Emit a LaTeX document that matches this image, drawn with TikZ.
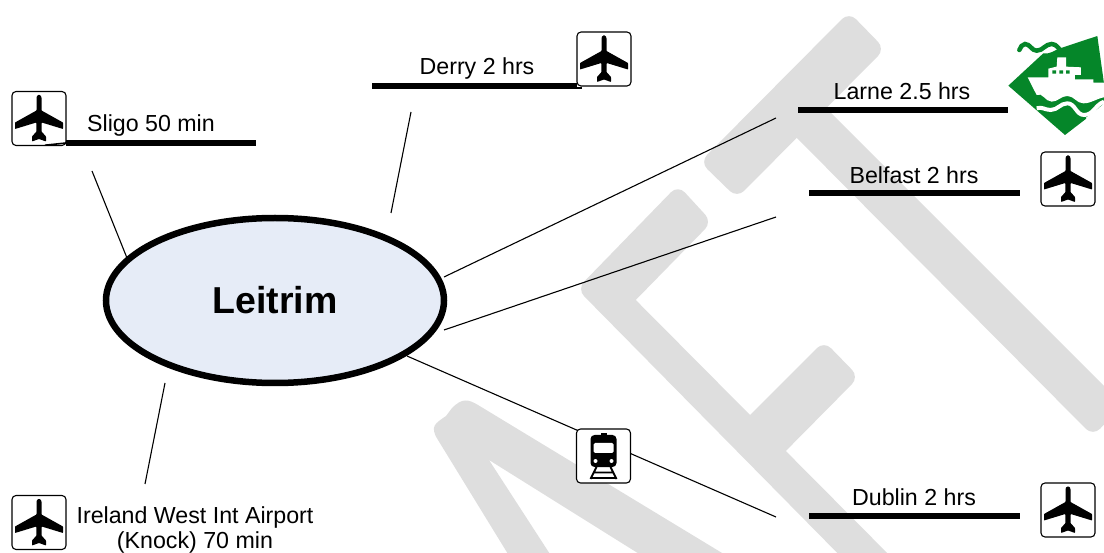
\documentclass[tikz,border=0pt]{standalone}
\usepackage{fontspec}
\setmainfont{Liberation Sans}
\usetikzlibrary{shapes.geometric}
\definecolor{wm}{HTML}{DEDEDE}
\definecolor{ferry}{HTML}{058629}
\definecolor{blob}{HTML}{E6ECF7}
\tikzset{
  iconbox/.style={draw=black,line width=1.1pt,fill=white,rounded corners=4pt,minimum width=54pt,minimum height=54pt,inner sep=0pt,outer sep=0pt},
  lbl/.style={font=\fontsize{23.2}{27}\selectfont,inner sep=0pt,text=black,anchor=base},
  bar/.style={line width=6pt,black},
  link/.style={line width=1.1pt,black},
  wmark/.style={fill=wm,rounded corners=10pt},
  plane/.pic={
    \fill[black,rounded corners=0.6pt] (-2.5,-20) to[out=90,in=180] (0,-23.5) to[out=0,in=90] (2.5,-20) -- (2.5,-8) -- (24,4) -- (24,10.5) -- (2.7,4) -- (2.5,13) -- (7,18) -- (7,23) -- (0,20.5) -- (-7,23) -- (-7,18) -- (-2.5,13) -- (-2.7,4) -- (-24,10.5) -- (-24,4) -- (-2.5,-8) -- cycle;
  },
  train/.pic={
    \fill[black] (-3,-23) rectangle (3,-19);
    \fill[black,rounded corners=4pt] (-13,-21) rectangle (13,11);
    \fill[white,rounded corners=1.5pt] (-10,-13) rectangle (10,-3);
    \fill[white] (-8,5) circle (2); \fill[white] (8,5) circle (2);
    \draw[black,line width=1.8pt] (-7,11) -- (-13,23) (7,11) -- (13,23) (-12,22) -- (12,22) (-9.5,16.5) -- (9.5,16.5);
  }
}
\begin{document}
\begin{tikzpicture}[x=1pt,y=-1pt]
\useasboundingbox (0,0) rectangle (1104,553);
% watermark
\begin{scope}
\clip (0,0) rectangle (1104,553);
% N
\fill[wm] (527,585) -- (438,440) .. controls (429,426) and (436,423) .. (446,416) -- (452,408) .. controls (462,398) and (468,399) .. (478,405) -- (760,576) -- (700,592) -- (489,460) -- (570,585) -- cycle;
% F
\path[wmark] (577,289) -- (601,265) -- (910,576) -- (860,576) -- cycle;
\path[wmark] (678,185) -- (712,222) -- (625,311) -- (577,289) -- cycle;
\path[wmark] (824,341) -- (859,377) -- (770,467) -- (735,430) -- cycle;
% T
\path[wmark] (849,12) -- (885,49) -- (737,198) -- (700,162) -- cycle;
\path[wmark] (820,102) -- (1123,405) -- (1093,436) -- (786,127) -- cycle;
\end{scope}
% ferry logo
\begin{scope}[shift={(980,20)},x=0.3333pt,y=-0.3333pt]
\clip (0,0) rectangle (372,400);
\fill[ferry] (85,197) -- (190,100) to[out=-10,in=200] (240,85) -- (352,48) -- (372,190) -- (372,250) -- (320,295) -- (255,345) -- cycle;
\draw[ferry,line width=4.5pt,line cap=round] (118,90) to[out=60,in=180] (135,72) to[out=0,in=180] (170,92) to[out=0,in=180] (215,72) to[out=0,in=150] (250,98);
\fill[white] (143,172) -- (205,172) -- (205,146) -- (230,140) -- (232,112) -- (258,112) -- (258,140) -- (303,142) -- (303,165) -- (285,165) -- (285,178) -- (340,178) -- (340,188) -- (372,188) -- (372,232) to[out=190,in=0] (310,250) to[out=180,in=0] (262,228) to[out=180,in=0] (215,245) to[out=180,in=30] (170,225) -- (152,190) -- cycle;
\fill[ferry] (217,151) rectangle (228,161) (238,151) rectangle (249,161) (258,151) rectangle (269,161);
\draw[white,line width=4pt] (170,265) to[out=20,in=180] (212,270) to[out=0,in=180] (262,250) to[out=0,in=180] (312,285) to[out=0,in=200] (372,245);
\draw[white,line width=3pt] (372,262) -- (320,297);
\end{scope}
% centre
\node[ellipse,draw=black,line width=6.5pt,fill=blob,minimum width=338pt,minimum height=165pt,inner sep=0pt,outer sep=0pt] (leitrim) at (275,300.5) {};
\node[font=\fontsize{37.5}{44}\selectfont\bfseries,inner sep=0pt,anchor=base] (leitrimt) at (275,314) {Leitrim};
% free ends
\coordinate (sligoA) at (92,171);   \coordinate (sligoB) at (127,258);
\coordinate (derryA) at (411,112);  \coordinate (derryB) at (391,213);
\coordinate (larneA) at (776,118);  \coordinate (larneB) at (444,277);
\coordinate (belfA) at (776,217);   \coordinate (belfB) at (444,330);
\coordinate (dubA) at (776,517);    \coordinate (dubB) at (407,356);
\coordinate (knockA) at (165,383);  \coordinate (knockB) at (145,484);
\draw[link] (sligoA) -- (sligoB);
\draw[link] (derryA) -- (derryB);
\draw[link] (larneA) -- (larneB);
\draw[link] (belfA) -- (belfB);
\draw[link] (dubA) -- (dubB);
\draw[link] (knockA) -- (knockB);
% labels
\node[lbl] (sligo) at (151,132) {Sligo 50 min};
\node[lbl] (derry) at (477,75) {Derry 2 hrs};
\node[lbl] (larne) at (902,99.5) {Larne 2.5 hrs};
\node[lbl] (belfast) at (914,183.5) {Belfast 2 hrs};
\node[lbl] (dublin) at (914,505) {Dublin 2 hrs};
\node[lbl] (knock1) at (195,523.5) {Ireland West Int Airport};
\node[lbl] (knock2) at (195,548) {(Knock) 70 min};
% icons
\node[iconbox] (i1) at (39,118.5) {};  \pic at (i1) {plane};
\node[iconbox] (i2) at (604,59) {};  \pic at (i2) {plane};
\node[iconbox] (i3) at (1068,179) {}; \pic at (i3) {plane};
\node[iconbox] (i4) at (1068,510) {}; \pic at (i4) {plane};
\node[iconbox] (i5) at (39,522.5) {};  \pic at (i5) {plane};
\node[iconbox] (i6) at (603.5,456) {}; \pic at (i6) {train};
% bars
\coordinate (b1a) at (45,143);  \coordinate (b1b) at (256,143);
\coordinate (b2a) at (372,86);  \coordinate (b2b) at (582,86);
\coordinate (b3a) at (798,110); \coordinate (b3b) at (1008,110);
\coordinate (b4a) at (809,193); \coordinate (b4b) at (1020,193);
\coordinate (b5a) at (809,516); \coordinate (b5b) at (1020,516);
\foreach \a/\b in {b3a/b3b,b4a/b4b,b5a/b5b} \draw[bar] (\a) -- (\b);
\draw[bar] (i1.east |- b1a) -- (b1b);
\draw[line width=1.6pt,black] (45,145.2) -- (i1.east |- b1a);
\draw[bar] (b2a) -- (i2.west |- b2a);
\draw[line width=1.6pt,black] (577,88) -- (582,88);
\end{tikzpicture}
\end{document}
